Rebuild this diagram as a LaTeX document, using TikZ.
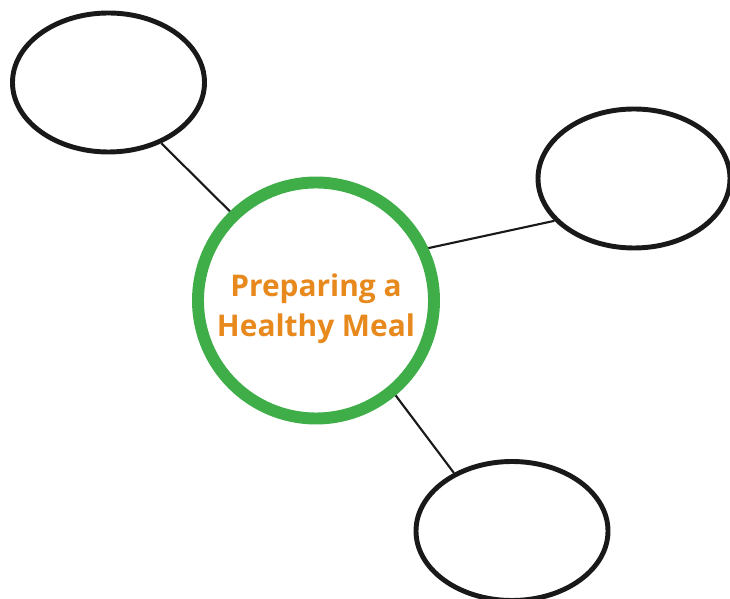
\documentclass[tikz,border=0pt]{standalone}
\usepackage{fontspec}
\setsansfont{Open Sans}
\usetikzlibrary{shapes.geometric}
\definecolor{verde}{HTML}{3FAE49}
\definecolor{arancio}{HTML}{E8891E}

\begin{document}
\begin{tikzpicture}
				% Stili per il cerchio centrale, il titolo e le ellissi vuote
				\tikzset{centro/.style={circle, draw=verde, line width=6.8pt, minimum size=4.72cm, inner sep=0pt},
					titolo/.style={align=center, inner sep=0pt, text=arancio, font=\sffamily\bfseries\fontsize{17pt}{22.7pt}\selectfont},
					bolla/.style={ellipse, draw=black!90, line width=2.8pt, minimum width=3.84cm, minimum height=2.78cm, inner sep=0pt},
					ramo/.style={draw=black!90, line width=1.2pt}}
				\useasboundingbox (0, 0) rectangle (14.6, 11.98);
				
				% Nodi
				\node[centro] (pasto) at (6.32, 5.97) {};
				\node[titolo] (scritta) at ([yshift=-0.17cm]pasto.center) {Preparing a\\Healthy Meal};
				\node[bolla] (alto) at (2.17, 10.33) {};
				\node[bolla] (destra) at (12.68, 8.41) {};
				\node[bolla] (basso) at (10.24, 1.36) {};
				
				% Collegamenti
				\draw[ramo] (pasto.134) -- (alto.311);
				\draw[ramo] (pasto.25) -- (destra.208);
				\draw[ramo] (pasto.310) -- (basso.135);
			\end{tikzpicture}
\end{document}
